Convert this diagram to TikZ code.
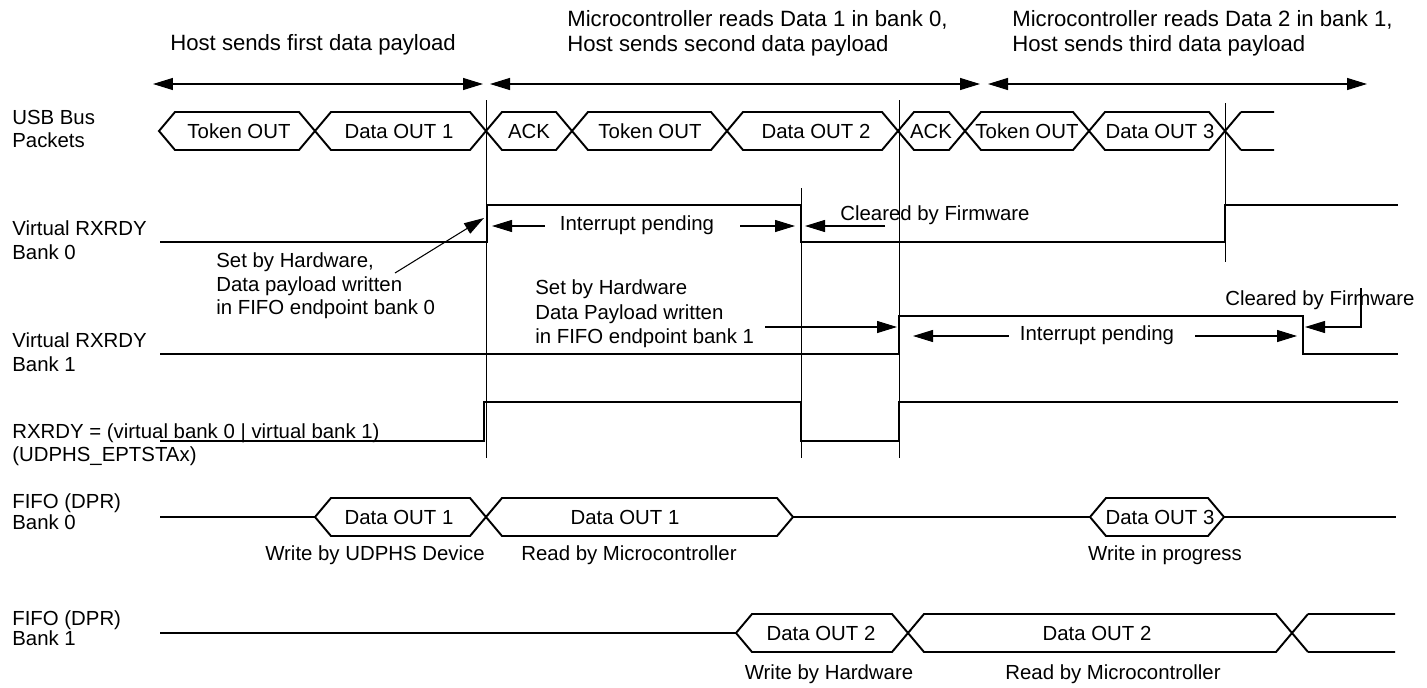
\documentclass[tikz,border=0pt]{standalone}
\usepackage{fontspec}
\setmainfont{Liberation Sans}
\usetikzlibrary{arrows.meta}

\begin{document}
\begin{tikzpicture}[x=0.02cm, y=-0.02cm,
  every node/.style={font=\fontsize{11.6}{14}\selectfont, inner sep=0pt},
  sig/.style={line width=1.4pt},
  bus/.style={line width=1.1pt},
  vmark/.style={line width=0.5pt},
  tip/.style={line width=0.6pt, -{Triangle[length=0.4cm, width=0.24cm]}},
  span/.style={line width=0.7pt, {Triangle[length=0.4cm, width=0.24cm]}-{Triangle[length=0.4cm, width=0.24cm]}},
  lbl/.style={anchor=west, align=left},
  phase/.style={anchor=west, align=left, font=\fontsize{12.6}{14.2}\selectfont}]
\useasboundingbox (0,0) rectangle (1427,687);

% phases
\node[phase] (ph1) at (170,45) {Host sends first data payload};
\node[phase] (ph2) at (567,33) {Microcontroller reads Data 1 in bank 0,\\Host sends second data payload};
\node[phase] (ph3) at (1012,33) {Microcontroller reads Data 2 in bank 1,\\Host sends third data payload};
\coordinate (p0) at (153,84); \coordinate (p1) at (483,84);
\coordinate (p2) at (490,84); \coordinate (p3) at (980,84);
\coordinate (p4) at (988,84); \coordinate (p5) at (1367,84);
\draw[span] (p0) -- (p1);
\draw[span] (p2) -- (p3);
\draw[span] (p4) -- (p5);

% signal names
\node[lbl, font=\fontsize{11.6}{13.6}\selectfont] (usbname) at (12,129) {USB Bus\\Packets};
\node[lbl, font=\fontsize{11.6}{13.6}\selectfont] (vb0name) at (12,240) {Virtual RXRDY\\Bank 0};
\node[lbl, font=\fontsize{11.6}{13.6}\selectfont] (vb1name) at (12,352) {Virtual RXRDY\\Bank 1};
\node[lbl, font=\fontsize{11.6}{13}\selectfont] (rxname) at (12,445) {RXRDY = (virtual bank 0 | virtual bank 1)\\(UDPHS\_EPTSTAx)};
\node[lbl, font=\fontsize{11.6}{10.2}\selectfont] (f0name) at (12,512) {FIFO (DPR)\\Bank 0};
\node[lbl, font=\fontsize{11.6}{11.6}\selectfont] (f1name) at (12,628) {FIFO (DPR)\\Bank 1};

\foreach \x/\a/\b in {486/100/458, 899/100/458, 801/188/458, 1225/103/262}
  \draw[vmark] (\x,\a) -- (\x,\b);

% usb packets
\foreach \a/\b/\m/\t [count=\i] in {159/315/239/Token OUT, 315/486/399/Data OUT 1, 486/572/529/ACK,
    572/727/650/Token OUT, 727/898/816/Data OUT 2, 898/965/931/ACK, 965/1089/1027/Token OUT, 1089/1225/1160/Data OUT 3} {
  \draw[bus] (\a,131) -- (\a+16,112) -- (\b-16,112) -- (\b,131) -- (\b-16,150) -- (\a+16,150) -- cycle;
  \node (usb\i) at (\m,131) {\t};
}
\draw[bus] (1241,112) -- (1225,131) -- (1241,150) (1241,112) -- (1274,112) (1241,150) -- (1274,150);

% virtual bank 0
\draw[sig] (160,242) -- (487,242) -- (487,205) -- (801,205) -- (801,242) -- (1225,242) -- (1225,205) -- (1398,205);
\node (ip0) at (637,225) {Interrupt pending};
\coordinate (ip0l) at (492,226); \coordinate (ip0r) at (795,226);
\draw[tip] (ip0.west) ++(-15,1) -- (ip0l);
\draw[tip] (ip0.east) ++(26,1) -- (ip0r);
\node[anchor=west] (clr0) at (840,215) {Cleared by Firmware};
\coordinate (clr0a) at (885,226); \coordinate (fall0) at (805,226);
\draw[tip] (clr0a) -- (fall0);
\node[lbl, font=\fontsize{11.6}{13.3}\selectfont] (set0) at (216,286) {Set by Hardware,\\Data payload written\\in FIFO endpoint bank 0};
\coordinate (set0a) at (395,273); \coordinate (rise0) at (484,218);
\draw[tip] (set0a) -- (rise0);

% virtual bank 1
\draw[sig] (160,354) -- (899,354) -- (899,316) -- (1303,316) -- (1303,354) -- (1398,354);
\node[lbl, font=\fontsize{11.6}{13.9}\selectfont] (set1) at (535,314) {Set by Hardware\\Data Payload written\\in FIFO endpoint bank 1};
\coordinate (set1a) at (765,327); \coordinate (rise1) at (897,327);
\draw[tip] (set1a) -- (rise1);
\node (ip1) at (1097,335) {Interrupt pending};
\coordinate (ip1l) at (913,336); \coordinate (ip1r) at (1297,336);
\draw[tip] (ip1.west) ++(-11,1) -- (ip1l);
\draw[tip] (ip1.east) ++(21,1) -- (ip1r);
\node[anchor=west] (clr1) at (1225,300) {Cleared by Firmware};
\coordinate (clr1a) at (1361,288); \coordinate (fall1) at (1305,327);
\draw[tip] (clr1a) |- (fall1);

% rxrdy
\draw[sig] (160,441) -- (484,441) -- (484,402) -- (801,402) -- (801,441) -- (899,441) -- (899,402) -- (1398,402);

% fifo bank 0
\draw[bus] (160,517) -- (315,517) (793,517) -- (1090,517) (1224,517) -- (1396,517);
\foreach \a/\b/\m/\t [count=\i] in {315/486/399/Data OUT 1, 486/793/625/Data OUT 1, 1090/1224/1160/Data OUT 3} {
  \draw[bus] (\a,517) -- (\a+16,498) -- (\b-16,498) -- (\b,517) -- (\b-16,536) -- (\a+16,536) -- cycle;
  \node (fa\i) at (\m,517) {\t};
}
\node (wr0) at (375,555) {Write by UDPHS Device};
\node (rd0) at (629,555) {Read by Microcontroller};
\node (wr3) at (1165,555) {Write in progress};

% fifo bank 1
\draw[bus] (160,633) -- (736,633);
\foreach \a/\b/\m/\t [count=\i] in {736/908/821/Data OUT 2, 908/1292/1097/Data OUT 2} {
  \draw[bus] (\a,633) -- (\a+16,614) -- (\b-16,614) -- (\b,633) -- (\b-16,652) -- (\a+16,652) -- cycle;
  \node (fb\i) at (\m,633) {\t};
}
\draw[bus] (1308,614) -- (1292,633) -- (1308,652) (1308,614) -- (1395,614) (1308,652) -- (1395,652);
\node (wr2) at (829,674) {Write by Hardware};
\node (rd2) at (1113,674) {Read by Microcontroller};
\end{tikzpicture}
\end{document}
